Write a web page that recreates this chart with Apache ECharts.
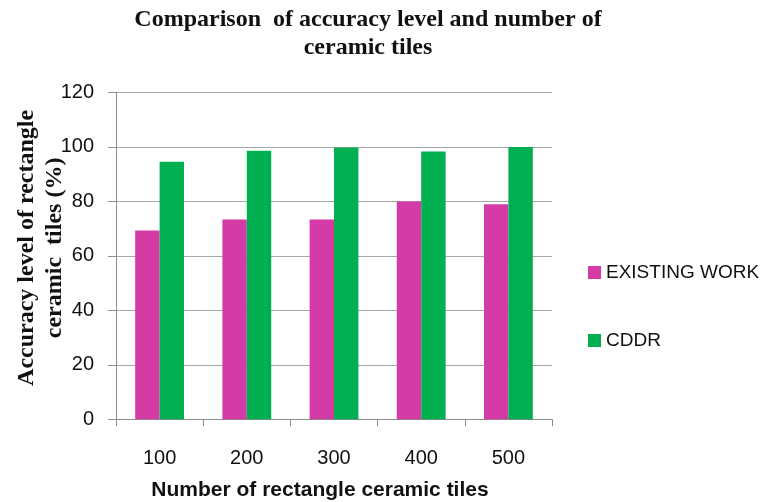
<!DOCTYPE html>
<html>
<head>
<meta charset="utf-8">
<script src="https://cdn.jsdelivr.net/npm/echarts@6/dist/echarts.min.js"></script>
<style>html,body{margin:0;padding:0;background:#fff}#c{width:769px;height:502px}</style>
</head>
<body>
<div id="c"></div>
<script>
var categories = ['100', '200', '300', '400', '500'];
var existingWork = [69.3, 73.4, 73.4, 80.0, 79.0];
var cddr = [94.6, 98.6, 99.8, 98.3, 100.0];
var seriesNames = ['EXISTING WORK', 'CDDR'];
var yTicks = {min: 0, max: 120, interval: 20};

var chart = echarts.init(document.getElementById('c'), null, {renderer: 'canvas'});
chart.setOption({
  animation: false,
  backgroundColor: '#ffffff',
  title: {
    text: 'Comparison  of accuracy level and number of\nceramic tiles',
    left: 363,
    textAlign: 'center',
    top: 1,
    textStyle: {fontFamily: 'Liberation Serif', fontWeight: 'bold', fontSize: 24, color: '#111', lineHeight: 28}
  },
  legend: {
    orient: 'vertical',
    left: 583,
    top: 258,
    itemGap: 49,
    itemWidth: 13,
    itemHeight: 13,
    icon: 'rect',
    data: seriesNames,
    textStyle: {fontFamily: 'Liberation Sans', fontSize: 19, color: '#111'}
  },
  grid: {left: 116, right: 217, top: 92.5, bottom: 82.7, containLabel: false, outerBoundsMode: 'none'},
  xAxis: {
    type: 'category',
    data: categories,
    name: 'Number of rectangle ceramic tiles',
    nameLocation: 'middle',
    nameGap: 60,
    nameMoveOverlap: false,
    nameTextStyle: {fontFamily: 'Liberation Sans', fontWeight: 'bold', fontSize: 21, color: '#111', padding: [0, 28, 0, 0]},
    axisLine: {lineStyle: {color: '#8c8c8c', width: 1}},
    axisTick: {show: true, inside: false, length: 7, alignWithLabel: false, lineStyle: {color: '#8c8c8c'}},
    axisLabel: {fontFamily: 'Liberation Sans', fontSize: 20, color: '#111', margin: 29}
  },
  yAxis: {
    type: 'value',
    min: yTicks.min,
    max: yTicks.max,
    interval: yTicks.interval,
    name: 'Accuracy level of rectangle\nceramic  tiles (%)',
    nameLocation: 'middle',
    nameGap: 47,
    nameMoveOverlap: false,
    nameRotate: 90,
    nameTextStyle: {fontFamily: 'Liberation Serif', fontWeight: 'bold', fontSize: 24, color: '#111', lineHeight: 28, padding: [0, 0, 0, 16]},
    axisLine: {show: true, lineStyle: {color: '#8c8c8c', width: 1}},
    axisTick: {show: true, inside: false, length: 8, lineStyle: {color: '#8c8c8c'}},
    splitLine: {show: true, lineStyle: {color: '#a6a6a6', width: 1}},
    axisLabel: {fontFamily: 'Liberation Sans', fontSize: 20, color: '#111', margin: 22}
  },
  series: [
    {name: seriesNames[0], type: 'bar', data: existingWork, barGap: '0%', barCategoryGap: '44%',
     itemStyle: {color: '#d43ba6'}},
    {name: seriesNames[1], type: 'bar', data: cddr, barGap: '0%', barCategoryGap: '44%',
     itemStyle: {color: '#00b050'}}
  ]
});
</script>
</body>
</html>
